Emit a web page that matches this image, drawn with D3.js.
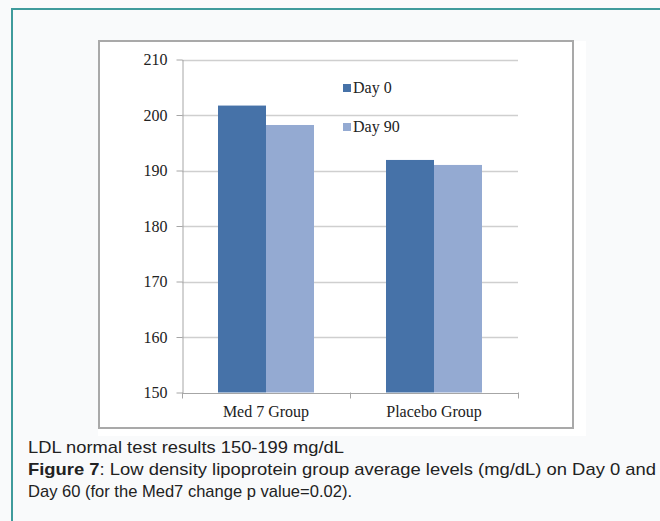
<!DOCTYPE html>
<html>
<head>
<meta charset="utf-8">
<script src="https://cdn.jsdelivr.net/npm/d3@7"></script>
<style>
  html, body { margin: 0; padding: 0; background: #f9fafb; }
  svg { display: block; }
</style>
</head>
<body>
<div id="chart"></div>
<script>
// data
const groups = ["Med 7 Group", "Placebo Group"];
const series = ["Day 0", "Day 90"];
const day0 = [201.7, 191.9];
const day90 = [198.2, 191.0];
const yTicks = [150, 160, 170, 180, 190, 200, 210];
const colors = ["#4672a8", "#94aad2"];

const W = 660, H = 521;

const svg = d3.select("#chart").append("svg")
    .attr("width", W)
    .attr("height", H);

// page frame
svg.append("rect")
    .attr("x", 0).attr("y", 0)
    .attr("width", W).attr("height", H)
    .attr("fill", "#f9fafb");
svg.append("path")
    .attr("d", "M12," + H + "V9H" + W)
    .attr("fill", "none")
    .attr("stroke", "#3f9b9c")
    .attr("stroke-width", 2);

// white image area and the chart border
svg.append("rect")
    .attr("x", 98).attr("y", 41)
    .attr("width", 488).attr("height", 395)
    .attr("fill", "#ffffff");
svg.append("rect")
    .attr("x", 99).attr("y", 41)
    .attr("width", 474).attr("height", 387)
    .attr("fill", "#ffffff")
    .attr("stroke", "#a9a9a9")
    .attr("stroke-width", 2);

const plot = {left: 182, right: 518, top: 59.5, bottom: 392.5};

const y = d3.scaleLinear()
    .domain([150, 210])
    .range([plot.bottom, plot.top]);

const x0 = d3.scaleBand()
    .domain(groups)
    .range([plot.left, plot.right])
    .paddingInner(0).paddingOuter(0);

const x1 = d3.scaleBand()
    .domain(series)
    .range([0, x0.bandwidth()])
    .paddingInner(0).paddingOuter(0.75);

// gridlines
svg.append("g")
    .selectAll("line")
    .data(yTicks.filter(d => d !== 150))
    .enter().append("line")
    .attr("x1", plot.left).attr("x2", plot.right)
    .attr("y1", d => Math.round(y(d)) + 0.5)
    .attr("y2", d => Math.round(y(d)) + 0.5)
    .attr("stroke", "#cfcfcf")
    .attr("stroke-width", 1.5);

// bars
const rows = groups.map((g, i) => ({group: g, values: [day0[i], day90[i]]}));
const gGroup = svg.append("g").selectAll("g")
    .data(rows)
    .enter().append("g")
    .attr("transform", d => "translate(" + x0(d.group) + ",0)");

gGroup.selectAll("rect")
    .data(d => d.values.map((v, j) => ({key: series[j], value: v, c: colors[j]})))
    .enter().append("rect")
    .attr("x", d => x1(d.key))
    .attr("width", x1.bandwidth())
    .attr("y", d => y(d.value))
    .attr("height", d => y(150) - y(d.value))
    .attr("fill", d => d.c);

// y axis
const yAxis = svg.append("g")
    .attr("transform", "translate(" + (plot.left + 0.5) + ",0)")
    .call(d3.axisLeft(y).tickValues(yTicks).tickSize(6).tickPadding(9).tickSizeOuter(0));
yAxis.select(".domain").attr("stroke", "#a6a6a6");
yAxis.selectAll(".tick line").attr("stroke", "#a6a6a6");
yAxis.selectAll("text")
    .attr("font-family", "'Liberation Serif', 'DejaVu Serif', serif")
    .attr("font-size", 16)
    .attr("fill", "#222");

// x axis
const xAxis = svg.append("g")
    .attr("transform", "translate(0," + (plot.bottom + 0.5) + ")")
    .call(d3.axisBottom(x0).tickSize(0).tickPadding(13));
xAxis.select(".domain").attr("stroke", "#a6a6a6");
xAxis.selectAll("text")
    .attr("font-family", "'Liberation Serif', 'DejaVu Serif', serif")
    .attr("font-size", 16)
    .attr("fill", "#222");
// category separators
svg.append("g").selectAll("line")
    .data([plot.left, x0(groups[1]), plot.right])
    .enter().append("line")
    .attr("x1", d => Math.round(d) + 0.5).attr("x2", d => Math.round(d) + 0.5)
    .attr("y1", plot.bottom).attr("y2", plot.bottom + 6)
    .attr("stroke", "#a6a6a6");

// legend
const legend = svg.append("g")
    .attr("transform", "translate(343,88)");
const item = legend.selectAll("g")
    .data(series)
    .enter().append("g")
    .attr("transform", (d, i) => "translate(0," + i * 39 + ")");
item.append("rect")
    .attr("x", 0).attr("y", -4)
    .attr("width", 8).attr("height", 8)
    .attr("fill", (d, i) => colors[i]);
item.append("text")
    .attr("x", 10).attr("y", 5)
    .attr("font-family", "'Liberation Serif', 'DejaVu Serif', serif")
    .attr("font-size", 16)
    .attr("fill", "#222")
    .text(d => d);

// caption
const cap = svg.append("g")
    .attr("font-family", "'Liberation Sans', Arial, sans-serif")
    .attr("font-size", 17)
    .attr("fill", "#222");
cap.append("text")
    .attr("x", 28).attr("y", 453)
    .attr("textLength", 316)
    .attr("lengthAdjust", "spacingAndGlyphs")
    .text("LDL normal test results 150-199 mg/dL");
const line2 = cap.append("text")
    .attr("x", 28).attr("y", 475)
    .attr("textLength", 628)
    .attr("lengthAdjust", "spacingAndGlyphs");
line2.append("tspan").attr("font-weight", "bold").text("Figure 7");
line2.append("tspan").text(": Low density lipoprotein group average levels (mg/dL) on Day 0 and");
cap.append("text")
    .attr("x", 28).attr("y", 497)
    .attr("textLength", 324)
    .attr("lengthAdjust", "spacingAndGlyphs")
    .text("Day 60 (for the Med7 change p value=0.02).");
</script>
</body>
</html>
